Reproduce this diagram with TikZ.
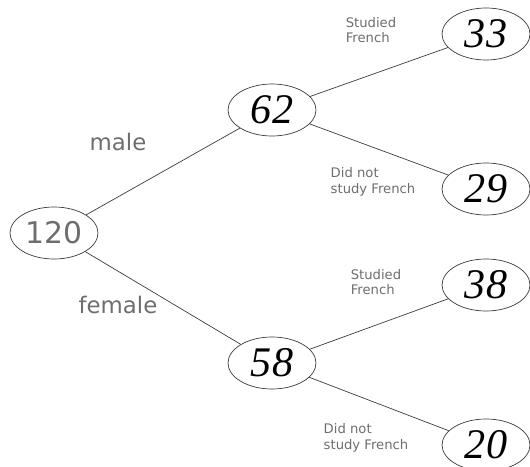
\documentclass[tikz,border=0pt]{standalone}
\usepackage{fontspec}
\setmainfont{DejaVu Sans}
\newfontfamily\handfont{Liberation Serif}
\usepackage{tikz}
\usetikzlibrary{shapes.geometric,positioning}
\definecolor{treegrey}{RGB}{110,110,110}
\definecolor{treeline}{RGB}{60,60,60}

\begin{document}
\begin{tikzpicture}[x=0.02cm, y=-0.02cm,
    cnt/.style={ellipse, draw=treeline, thin, minimum width=1.76cm,
                minimum height=1.04cm, inner sep=0pt,
                font=\fontsize{24}{24}\selectfont\handfont\itshape},
    edge/.style={draw=treeline, thin},
    branch/.style={font=\fontsize{13}{13}\selectfont, text=treegrey},
    note/.style={font=\fontsize{7.5}{9}\selectfont, text=treegrey,
                 align=left},
  ]
  \useasboundingbox (0,0) rectangle (530,466);

  % Wurzel
  \node[cnt, font=\fontsize{17}{17}\selectfont, text=treegrey] (all) at (54,233) {120};

  % Geschlecht
  \node[cnt] (male) at (272,110) {62};
  \node[cnt] (female) at (272,363) {58};

  % Franzoesisch
  \node[cnt] (mfr) at (486,34) {33};
  \node[cnt] (mno) at (486,189) {29};
  \node[cnt] (ffr) at (486,285) {38};
  \node[cnt] (fno) at (486,445) {20};

  % Linien
  \draw[edge] (all) -- (male);
  \draw[edge] (all) -- (female);
  \draw[edge] (male) -- (mfr);
  \draw[edge] (male) -- (mno);
  \draw[edge] (female) -- (ffr);
  \draw[edge] (female) -- (fno);

  % Beschriftungen
  \node[branch] (lmale) at (118,142) {male};
  \node[branch] (lfemale) at (118,305) {female};
  \node[note] (tmfr) at (371,30) {Studied\\French};
  \node[note] (tmno) at (373,182) {Did not\\study French};
  \node[note] (tffr) at (376,282) {Studied\\French};
  \node[note] (tfno) at (366,438) {Did not\\study French};
\end{tikzpicture}
\end{document}
